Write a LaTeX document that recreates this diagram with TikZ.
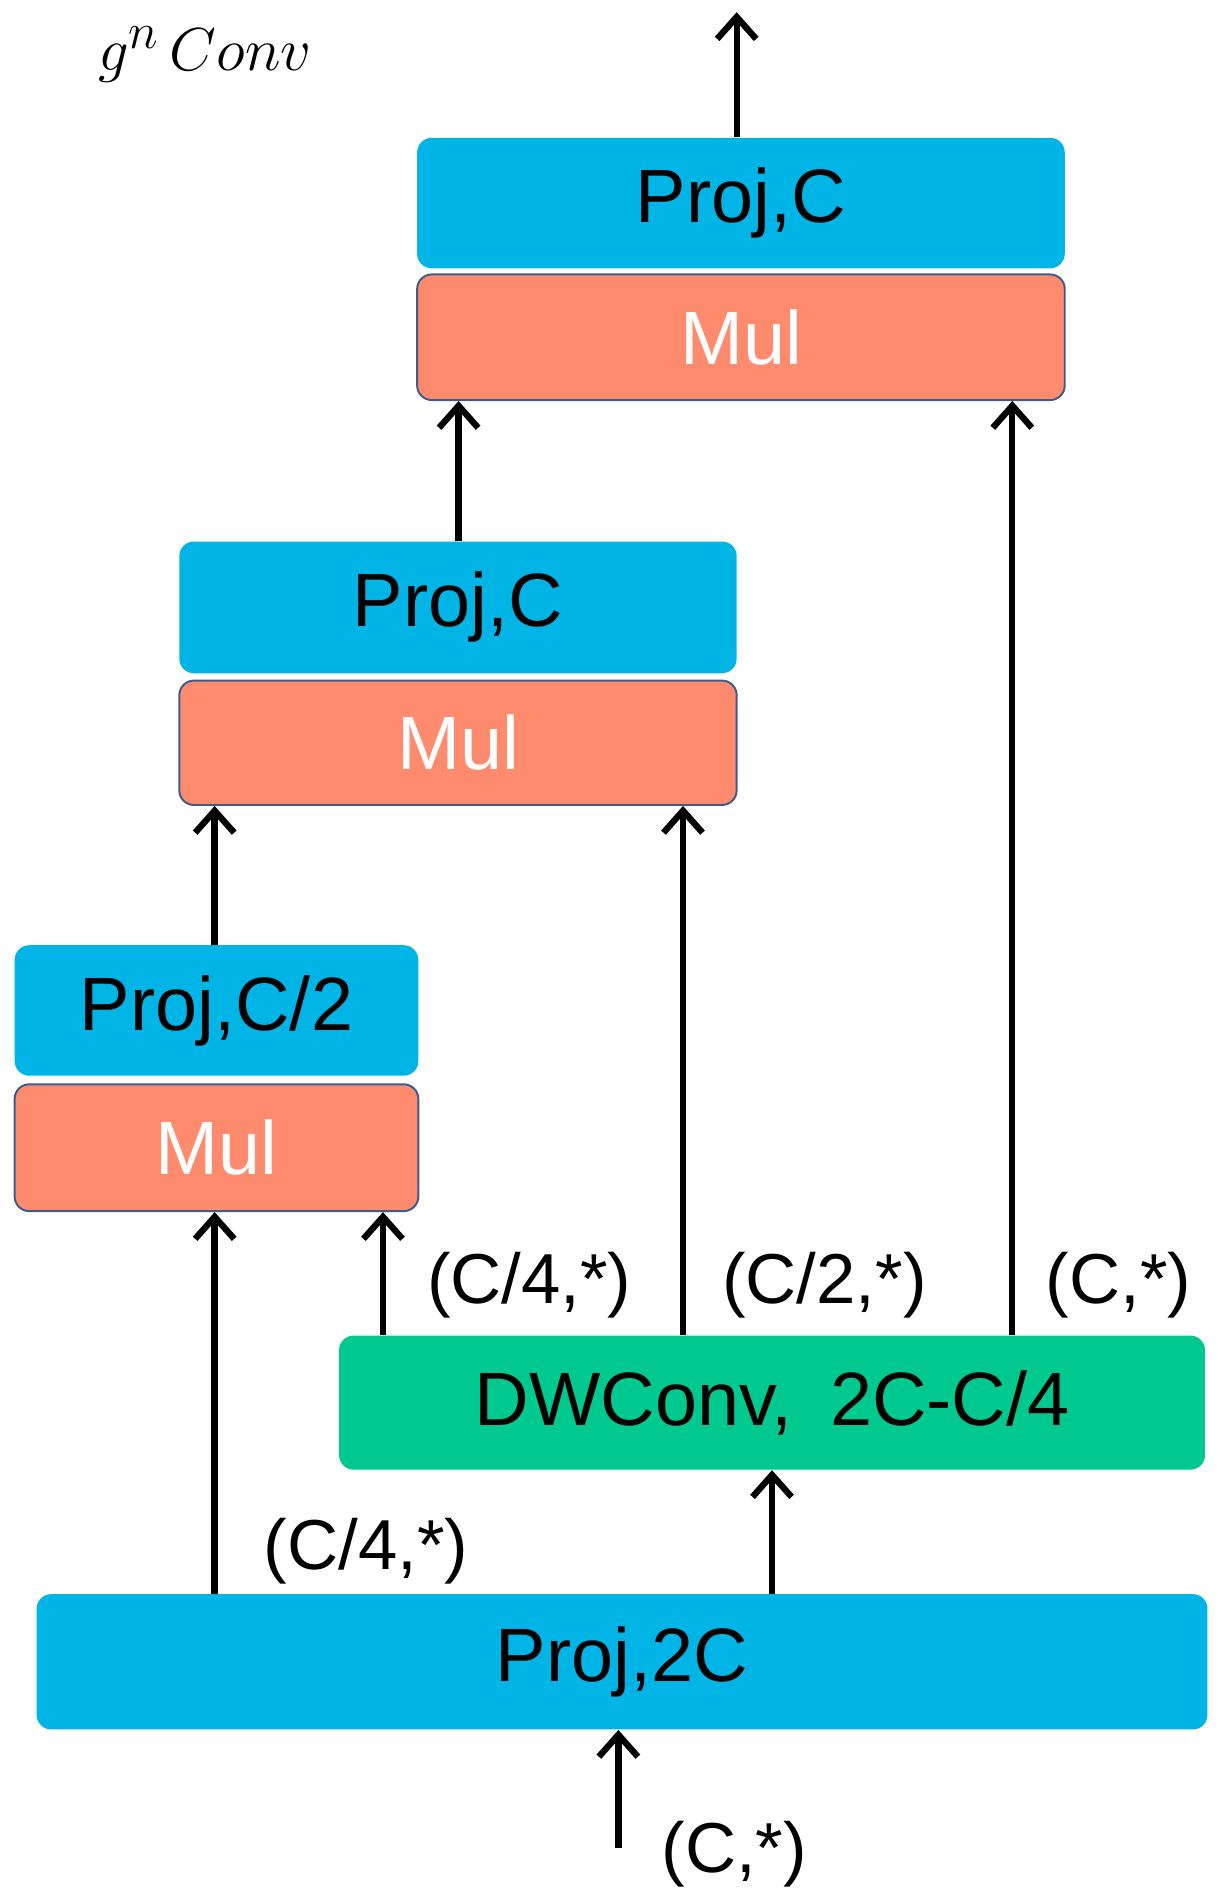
\documentclass[tikz,border=0pt]{standalone}
\usepackage{fontspec}
\setmainfont{Liberation Sans}
\usetikzlibrary{arrows.meta}
\definecolor{pblue}{HTML}{00B4E6}
\definecolor{pmul}{HTML}{FF8B6F}
\definecolor{pgreen}{HTML}{00C990}
\definecolor{pedge}{HTML}{3F5B8A}
\begin{document}
\begin{tikzpicture}[x=0.5pt,y=-0.5pt,
  box/.style={rounded corners=6pt,inner sep=0pt,font=\fontsize{31}{36}\selectfont},
  proj/.style={box,fill=pblue,text=black},
  mul/.style={box,fill=pmul,draw=pedge,line width=0.8pt,text=white},
  dw/.style={box,fill=pgreen,text=black},
  arr/.style={line width=2.6pt,-{Straight Barb[length=9pt,width=16pt,line width=2.6pt]}},
  lab/.style={font=\fontsize{29}{34}\selectfont,inner sep=0pt}]
\useasboundingbox (0,0) rectangle (1000,1557);
\node[font=\fontsize{30}{34}\selectfont] (title) at (168,45) {$g^n\,Conv$};
\node[proj,minimum width=265.5pt,minimum height=53.5pt] (p1) at (607.5,166.5) {Proj,C};
\node[mul,minimum width=265.5pt,minimum height=51.5pt] (m1) at (607.5,276.5) {Mul};
\node[proj,minimum width=228.5pt,minimum height=54pt] (p2) at (375.5,498) {Proj,C};
\node[mul,minimum width=228.5pt,minimum height=51pt] (m2) at (375.5,609) {Mul};
\node[proj,minimum width=165.5pt,minimum height=53.5pt] (p3) at (177.5,828.5) {Proj,C/2};
\node[mul,minimum width=165.5pt,minimum height=52pt] (m3) at (177.5,941) {Mul};
\node[dw,minimum width=355pt,minimum height=55pt] (dw) at (633,1150) {DWConv,\enspace2C-C/4};
\node[proj,minimum width=480pt,minimum height=55.5pt] (p2c) at (510,1362.5) {Proj,2C};
\coordinate (in) at (507,1515);
\coordinate (out) at (604,10);
\coordinate (x176) at (176,0);
\coordinate (x314) at (314,0);
\coordinate (x376) at (376,0);
\coordinate (x560) at (560,0);
\coordinate (x604) at (604,0);
\coordinate (x633) at (633,0);
\coordinate (x830) at (830,0);
\draw[arr] (in) -- (in |- p2c.south);
\draw[arr] (p2c.north -| x633) -- (dw.south -| x633);
\draw[arr] (p2c.north -| x176) -- (m3.south -| x176);
\draw[arr] (dw.north -| x314) -- (m3.south -| x314);
\draw[arr] (dw.north -| x560) -- (m2.south -| x560);
\draw[arr] (dw.north -| x830) -- (m1.south -| x830);
\draw[arr] (p3.north -| x176) -- (m2.south -| x176);
\draw[arr] (p2.north -| x376) -- (m1.south -| x376);
\draw[arr] (p1.north -| x604) -- (out);
\node[lab] (l0) at (602,1520) {(C,*)};
\node[lab] (l1) at (300,1272) {(C/4,*)};
\node[lab] (l2) at (434,1054) {(C/4,*)};
\node[lab] (l3) at (676,1054) {(C/2,*)};
\node[lab] (l4) at (917,1054) {(C,*)};
\end{tikzpicture}
\end{document}
